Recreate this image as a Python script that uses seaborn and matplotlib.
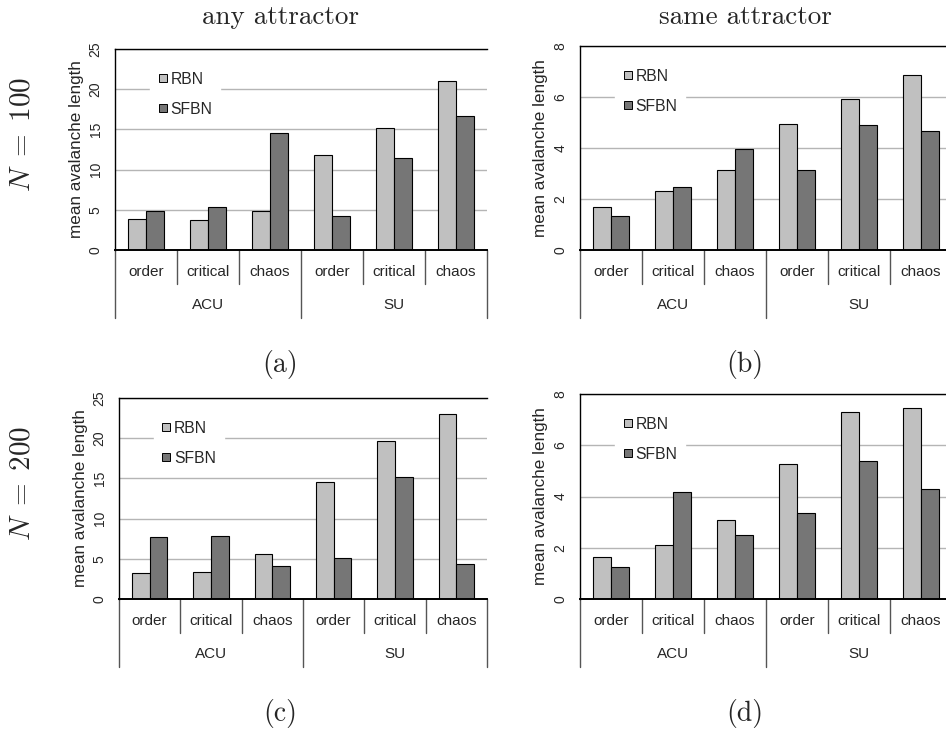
import numpy as np
import pandas as pd
import matplotlib
matplotlib.use("Agg")
import matplotlib.pyplot as plt
import matplotlib.transforms as mtransforms
from matplotlib.lines import Line2D
import seaborn as sns

units = ["ACU", "SU"]
regimes = ["order", "critical", "chaos"]
networks = ["RBN", "SFBN"]

# mean avalanche length, order: ACU order/critical/chaos, SU order/critical/chaos
rbn_any_100 = [3.8, 3.7, 4.9, 11.8, 15.2, 21.0]
sfbn_any_100 = [4.9, 5.4, 14.5, 4.2, 11.4, 16.7]
rbn_same_100 = [1.67, 2.33, 3.13, 4.95, 5.94, 6.86]
sfbn_same_100 = [1.32, 2.49, 3.97, 3.15, 4.92, 4.66]
rbn_any_200 = [3.2, 3.3, 5.6, 14.6, 19.7, 23.05]
sfbn_any_200 = [7.75, 7.8, 4.1, 5.1, 15.2, 4.3]
rbn_same_200 = [1.65, 2.1, 3.1, 5.28, 7.3, 7.45]
sfbn_same_200 = [1.26, 4.17, 2.48, 3.36, 5.39, 4.29]

col_titles = ["any attractor", "same attractor"]
row_titles = [r"$N\;=\;100$", r"$N\;=\;200$"]
tags = ["(a)", "(b)", "(c)", "(d)"]

palette = {"RBN": "#c0c0c0", "SFBN": "#767676"}

sns.set_style("white")
plt.rcParams["font.family"] = ["Liberation Sans", "DejaVu Sans"]
plt.rcParams["mathtext.fontset"] = "cm"

W, H = 946, 731
fig = plt.figure(figsize=(W / 100, H / 100), dpi=100)

keys = [f"{u} {r}" for u in units for r in regimes]


def make_frame(rbn, sfbn):
    return pd.DataFrame({
        "key": keys * 2,
        "network": ["RBN"] * len(keys) + ["SFBN"] * len(keys),
        "value": list(rbn) + list(sfbn),
    })


def draw_panel(box, ymax, step, rbn, sfbn):
    left, right, top, bottom = box
    w, h = right - left, bottom - top
    ax = fig.add_axes([left / W, 1 - bottom / H, w / W, h / H])
    sns.barplot(data=make_frame(rbn, sfbn), x="key", y="value", hue="network",
                order=keys, hue_order=networks, palette=palette, width=0.58,
                saturation=1, edgecolor="black", linewidth=0.8, legend=False,
                ax=ax, zorder=2)
    ax.set_xlim(-0.5, len(keys) - 0.5)
    ax.set_ylim(0, ymax)
    ax.set_yticks(np.arange(0, ymax + step / 2, step))
    ax.tick_params(axis="y", length=0, pad=9, labelsize=10, labelrotation=90)
    for lab in ax.get_yticklabels():
        lab.set_va("center")
    ax.set_xticks([])
    ax.set_xlabel("")
    ax.set_ylabel("mean avalanche length", fontsize=12.3)
    ax.yaxis.label.set_va("center")
    ax.yaxis.set_label_coords(-39 / w, 0.5)
    ax.yaxis.grid(True, color="#b5b5b5", lw=1)
    ax.set_axisbelow(True)
    ax.spines["right"].set_visible(False)
    for s in ["left", "top"]:
        ax.spines[s].set_color("black")
        ax.spines[s].set_linewidth(1)
    ax.spines["bottom"].set_color("black")
    ax.spines["bottom"].set_linewidth(1.4)
    ax.spines["bottom"].set_zorder(3)

    # two-level category table below the axis
    trans = mtransforms.blended_transform_factory(ax.transData, ax.transAxes)
    for i, key in enumerate(keys):
        ax.text(i, -22 / h, key.split(" ")[1], transform=trans, ha="center",
                va="center", fontsize=11)
    n = len(regimes)
    for j, u in enumerate(units):
        ax.text(j * n + (n - 1) / 2, -55 / h, u, transform=trans, ha="center",
                va="center", fontsize=11)
    for k in range(len(keys) + 1):
        x = k - 0.5
        depth = 68 if k % n == 0 else 34
        ax.plot([x, x], [0, -depth / h], transform=trans, color="#555555",
                lw=1, clip_on=False)

    handles = [Line2D([], [], marker="s", ls="none", markersize=5.5,
                      markerfacecolor=palette[nm], markeredgecolor="black",
                      markeredgewidth=0.7) for nm in networks]
    leg = ax.legend(handles, networks, loc="upper left",
                    bbox_to_anchor=((150 - 115) / 372, 1 - 15 / h),
                    frameon=True, facecolor="white", edgecolor="white",
                    framealpha=1, fancybox=False, fontsize=11.3,
                    handlelength=0.6, handletextpad=0.2, labelspacing=0.95,
                    borderpad=0.5, borderaxespad=0)
    leg.set_zorder(4)
    return ax


boxes = [(115, 487, 49, 250), (580, 952, 46, 250),
         (119, 487, 398, 599), (580, 952, 394, 599)]
limits = [(25, 5), (8, 2), (25, 5), (8, 2)]
series = [(rbn_any_100, sfbn_any_100), (rbn_same_100, sfbn_same_100),
          (rbn_any_200, sfbn_any_200), (rbn_same_200, sfbn_same_200)]

for box, (ymax, step), (rbn, sfbn) in zip(boxes, limits, series):
    draw_panel(box, ymax, step, rbn, sfbn)

for cx, t in zip([280, 745], col_titles):
    fig.text(cx / W, 1 - 24 / H, t, family="cmr10", fontsize=19.5,
             ha="center", va="baseline")
for cy, t in zip([134, 483], row_titles):
    fig.text(22 / W, 1 - cy / H, t, fontsize=21, rotation=90,
             ha="center", va="center")
for (cx, cy), t in zip([(280, 364), (745, 364), (280, 714), (745, 714)], tags):
    fig.text(cx / W, 1 - cy / H, t, family="cmr10", fontsize=20,
             ha="center", va="center")

fig.savefig("out.png", dpi=100)
